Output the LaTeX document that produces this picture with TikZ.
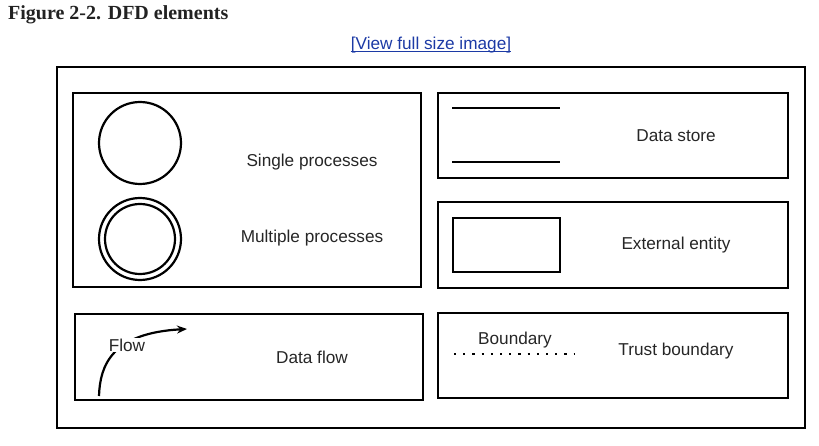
\documentclass[tikz,border=0pt]{standalone}
\usepackage{fontspec}
\setmainfont{Liberation Sans}
\newfontfamily\titlefont{Liberation Serif}
\usetikzlibrary{arrows.meta}
\definecolor{linkblue}{RGB}{28,58,165}
\definecolor{titlegray}{RGB}{34,34,34}
\begin{document}
\begin{tikzpicture}[x=1pt,y=-1pt,
  box/.style={draw=black,line width=2.2pt},
  shp/.style={draw=black,line width=2.2pt},
  lbl/.style={font=\fontsize{17.2}{20}\selectfont,text=black!85,inner sep=0pt}]
\useasboundingbox (0,0) rectangle (819,446);
% title and link
\node[anchor=west,inner sep=0pt,text=titlegray,font=\titlefont\bfseries\fontsize{20}{24}\selectfont] (title) at (8,15) {Figure 2-2. DFD elements};
\node[inner sep=0pt,text=linkblue,font=\fontsize{17.2}{20}\selectfont] (link) at (431,45) {[View full size image]};
\draw[linkblue,line width=1.2pt] ([yshift=2pt]link.south west) coordinate (ul1) -- ([yshift=2pt]link.south east);
% outer frame
\draw[box] (57,67) rectangle (805,428);
% processes box
\draw[box] (73,93) rectangle (421,287);
\draw[shp] (140,143) circle[radius=41];
\draw[shp] (140,239) circle[radius=41];
\draw[shp] (140,239) circle[radius=35];
\node[lbl] (single) at (312,162) {Single processes};
\node[lbl] (multi) at (312,238) {Multiple processes};
% data store
\draw[box] (438,93) rectangle (788,178);
\coordinate (ds1a) at (452,108); \coordinate (ds1b) at (560,108);
\coordinate (ds2a) at (452,162); \coordinate (ds2b) at (560,162);
\draw[shp] (ds1a) -- (ds1b);
\draw[shp] (ds2a) -- (ds2b);
\node[lbl] (store) at (676,136) {Data store};
% external entity
\draw[box] (438,202) rectangle (788,288);
\draw[shp] (453,218) rectangle (560,272);
\node[lbl] (ext) at (676,245) {External entity};
% data flow
\draw[box] (75,314) rectangle (423,400);
\coordinate (fa) at (99,396);
\coordinate (fb) at (187,329);
\draw[shp,-{Stealth[length=10pt,width=8pt]}] (fa) .. controls (100,365) and (112,333) .. (fb);
\node[lbl,fill=white,inner sep=0.5pt] (flow) at (127,345) {Flow};
\node[lbl] (dflow) at (312,357) {Data flow};
% trust boundary
\draw[box] (438,313) rectangle (788,398);
\coordinate (tb1) at (454,354); \coordinate (tb2) at (575,354);
\draw[line width=2.6pt,dash pattern=on 2.2pt off 7pt] (tb1) -- (tb2);
\node[lbl] (bnd) at (515,340) {Boundary};
\node[lbl] (trust) at (676,351) {Trust boundary};
\end{tikzpicture}
\end{document}
